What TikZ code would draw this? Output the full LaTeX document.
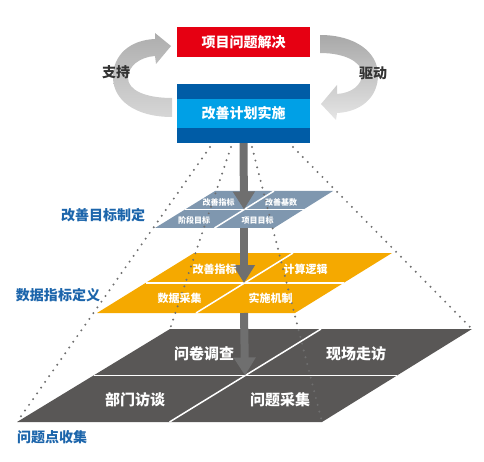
\documentclass[tikz,border=0pt]{standalone}
\usepackage{fontspec}
\newfontfamily\cjk{Noto Sans CJK SC}
\usetikzlibrary{arrows.meta}
\definecolor{cred}{HTML}{E60012}
\definecolor{cdblue}{HTML}{005CA6}
\definecolor{clblue}{HTML}{00A0E6}
\definecolor{cslate}{HTML}{7F97AF}
\definecolor{corange}{HTML}{F5A900}
\definecolor{cdark}{HTML}{595756}
\definecolor{clabel}{HTML}{1C65AB}
\definecolor{cgray}{HTML}{6F6F6F}
\definecolor{ctext}{HTML}{333333}
\begin{document}
\begin{tikzpicture}[x=1pt,y=-1pt,
  cjkfont/.style={font=\cjk\bfseries\fontsize{#1}{#1}\selectfont},
  boxtext/.style={text=white,cjkfont=14,inner sep=0pt},
  sidelabel/.style={text=clabel,cjkfont=14,inner sep=0pt},
  arrowlabel/.style={text=ctext,cjkfont=14,inner sep=0pt},
  planelabel/.style={text=white,cjkfont=#1,inner sep=0pt},
  divider/.style={white,line width=1.5pt},
  flow/.style={cgray,line width=8pt,-{Triangle[width=21pt,length=18pt]}},
  dots/.style={cgray,line width=2.2pt,line cap=round,dash pattern=on 0pt off 7pt}
]
\useasboundingbox (0,0) rectangle (484,462);

% ---- curved arrows
\shade[top color=black!32,bottom color=black!16]
  (172,117) .. controls (135,117) and (113,100) .. (113,77)
  .. controls (113,55) and (130,40) .. (155,39)
  -- (155,33) -- (171,46) -- (156,64) -- (155,56)
  .. controls (140,57) and (128,66) .. (128,78)
  .. controls (128,90) and (145,98) .. (172,98) -- cycle;
\shade[top color=black!34,bottom color=black!10]
  (320,35) .. controls (355,35) and (378,52) .. (378,75)
  .. controls (378,98) and (360,112) .. (337,113)
  -- (336,120) -- (321,104) -- (337,85) -- (337,94)
  .. controls (352,93) and (362,85) .. (362,74)
  .. controls (362,62) and (345,53) .. (320,53) -- cycle;
\node[arrowlabel] (support) at (116,72) {支持};
\node[arrowlabel] (drive) at (373,73) {驱动};

% ---- top boxes
\node[fill=cred,minimum width=133pt,minimum height=30pt,inner sep=0pt] (goal) at (243.5,42) {};
\node[boxtext] (goaltext) at (goal.center) {项目问题解决};
\node[fill=cdblue,minimum width=133pt,minimum height=59pt,inner sep=0pt] (plan) at (243.5,113.5) {};
\fill[clblue] (177,99) rectangle (310,128);
\node[boxtext] (plantext) at (plan.center) {改善计划实施};

% ---- planes
\coordinate (c1) at (244,209.5);
\coordinate (c2) at (244,283);
\coordinate (c3) at (245,375.5);

% top plane (slate)
\fill[cslate] (215,191) -- (333,191) -- (274,228) -- (155,228) -- cycle;
\draw[divider] (185,209.5) -- (303.5,209.5);
\draw[divider] (214.5,228) -- (274,191);
% orange plane
\fill[corange] (194,253) -- (392,253) -- (295,313) -- (97,313) -- cycle;
\draw[divider] (145.5,283) -- (343.5,283);
\draw[divider] (196,313) -- (293,253);
% dark plane
\fill[cdark] (170,329) -- (472,329) -- (322,422) -- (17,422) -- cycle;
\draw[divider] (93.5,375.5) -- (397,375.5);
\draw[divider] (169.5,422) -- (321,329);

% ---- vertical flow arrows
\coordinate (b1) at (244,228);
\coordinate (b2) at (244,313);
\draw[flow] (plan.south) -- (c1);
\draw[flow] (b1) -- (c2);
\draw[flow] (b2) -- (c3);

% ---- dotted projection lines
\coordinate (d1) at (210,147);
\coordinate (d2) at (231,147);
\coordinate (d3) at (252,147);
\coordinate (d4) at (293,147);
\draw[dots] (d1) -- (17,422);
\draw[dots] (d2) -- (170,329);
\draw[dots] (d3) -- (322,422);
\draw[dots] (d4) -- (472,329);

% ---- plane labels
\node[planelabel=8] (t1) at (218.5,202) {改善指标};
\node[planelabel=8] (t2) at (281,202) {改善基数};
\node[planelabel=8] (t3) at (194,220) {阶段目标};
\node[planelabel=8] (t4) at (257.5,220) {项目目标};

\node[planelabel=11] (o1) at (214.5,269) {改善指标};
\node[planelabel=11] (o2) at (305.5,269) {计算逻辑};
\node[planelabel=11] (o3) at (179.5,298) {数据采集};
\node[planelabel=11] (o4) at (270.5,298) {实施机制};

\node[planelabel=15] (g1) at (204,354) {问卷调查};
\node[planelabel=15] (g2) at (356,354) {现场走访};
\node[planelabel=15] (g3) at (135,400) {部门访谈};
\node[planelabel=15] (g4) at (280,400) {问题采集};

% ---- side labels
\node[sidelabel] (l1) at (103,215) {改善目标制定};
\node[sidelabel] (l2) at (58,295) {数据指标定义};
\node[sidelabel] (l3) at (52,437) {问题点收集};
\end{tikzpicture}
\end{document}
